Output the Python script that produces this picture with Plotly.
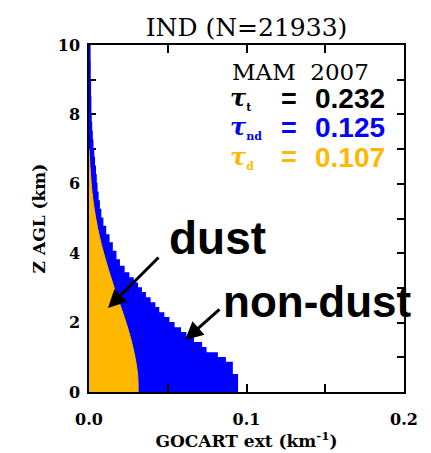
import plotly.graph_objects as go

# ---- data ----
# total (dust + non-dust) extinction, stepped profile: bin edges (km) and values (km^-1)
z_edges = [0.00, 0.49, 0.84, 0.98, 1.12, 1.27, 1.41, 1.56, 1.70, 1.84, 1.99, 2.13, 2.27,
           2.42, 2.56, 2.70, 2.85, 2.99, 3.13, 3.28, 3.42, 3.61, 3.80, 4.04, 4.29, 4.52,
           4.76, 5.00, 5.25, 5.50, 5.75, 6.00, 6.25, 6.50, 6.75, 7.00, 7.25, 7.50, 7.75,
           8.00, 8.50, 9.00, 9.50, 10.00]
total_ext = [0.0940, 0.0907, 0.0863, 0.0812, 0.0740, 0.0712, 0.0660, 0.0612, 0.0578,
             0.0537, 0.0504, 0.0472, 0.0440, 0.0415, 0.0385, 0.0355, 0.0330, 0.0305,
             0.0278, 0.0250, 0.0220, 0.0190, 0.0168, 0.0145, 0.0124, 0.0103, 0.0085,
             0.0072, 0.0063, 0.0055, 0.0048, 0.0043, 0.0038, 0.0032, 0.0027, 0.0022,
             0.0018, 0.0014, 0.0011, 0.0009, 0.0007, 0.0005, 0.0004]

# dust extinction, smooth profile
dust_z = [0.0, 0.5, 1.0, 1.5, 2.0, 2.5, 3.0, 3.5, 4.0, 4.5, 5.0, 5.5, 6.0, 6.5, 7.0]
dust_ext = [0.0312, 0.0309, 0.0292, 0.0267, 0.0235, 0.0198, 0.0160, 0.0125, 0.0093,
            0.0065, 0.0043, 0.0026, 0.0014, 0.0006, 0.0]

x_tickvals = [0.0, 0.05, 0.1, 0.15, 0.2]
x_ticktext = ["0.0", "", "0.1", "", "0.2"]
y_tickvals = [0, 1, 2, 3, 4, 5, 6, 7, 8, 9, 10]
y_ticktext = ["0", "", "2", "", "4", "", "6", "", "8", "", "10"]

title_text = "IND (N=21933)"
season_text = "MAM  2007"
tau_subs = ["t", "nd", "d"]
tau_values = ["0.232", "0.125", "0.107"]
tau_colors = ["#000000", "#0000FF", "#FFB800"]

BLUE = "#0000FF"
ORANGE = "#FFB800"

fig = go.Figure()

fig.add_trace(go.Scatter(
    x=total_ext + [total_ext[-1]], y=z_edges,
    mode="lines", line=dict(color=BLUE, width=2, shape="vh"),
    fill="tozerox", fillcolor=BLUE, hoverinfo="skip", showlegend=False))

fig.add_trace(go.Scatter(
    x=dust_ext, y=dust_z,
    mode="lines", line=dict(color=ORANGE, width=1, shape="spline"),
    fill="tozerox", fillcolor=ORANGE, hoverinfo="skip", showlegend=False))

serif = "DejaVu Serif"
tickfont = dict(family=serif, size=16, color="black", weight="bold")

fig.update_layout(
    width=431, height=453,
    margin=dict(l=89, r=27, t=45, b=61),
    paper_bgcolor="white", plot_bgcolor="white",
    title=dict(text=title_text, x=0.572, xanchor="center", y=1 - 27 / 453, yanchor="middle",
               font=dict(family=serif, size=25, color="black")),
    xaxis=dict(range=[0, 0.2], tickvals=x_tickvals, ticktext=x_ticktext,
               ticks="inside", ticklen=8, tickwidth=1.5, tickcolor="black",
               showline=True, linecolor="black", linewidth=1.5, mirror="ticks",
               showgrid=False, zeroline=False, tickfont=tickfont, ticklabelstandoff=12,
               automargin=False,
               title=dict(text="<b>GOCART ext (km<sup>-1</sup>)</b>",
                          font=dict(family=serif, size=17, color="black"), standoff=5)),
    yaxis=dict(range=[0, 10], tickvals=y_tickvals, ticktext=y_ticktext,
               ticks="inside", ticklen=7, tickwidth=1.5, tickcolor="black",
               showline=True, linecolor="black", linewidth=1.5, mirror="ticks",
               showgrid=False, zeroline=False, tickfont=tickfont, layer="below traces",
               ticklabelstandoff=4, automargin=False,
               title=dict(text="<b>Z AGL (km)</b>",
                          font=dict(family=serif, size=17, color="black"), standoff=8)),
)

ann = []
ann.append(dict(xref="paper", yref="paper", x=(230 - 89) / 315, y=(392 - 72) / 347,
                text=season_text, showarrow=False, xanchor="left", yanchor="middle",
                font=dict(family=serif, size=23, color="black")))
for i, (sub, val, col) in enumerate(zip(tau_subs, tau_values, tau_colors)):
    yc = (392 - (99 + 29 * i)) / 347
    lab = ("<b><i>τ</i></b><sub><span style='font-size:11px'><b>" + sub +
           "</b></span></sub>")
    ann.append(dict(xref="paper", yref="paper", x=(228 - 89) / 315, y=yc, text=lab,
                    showarrow=False, xanchor="left", yanchor="middle",
                    font=dict(family="DejaVu Serif", size=24, color=col)))
    ann.append(dict(xref="paper", yref="paper", x=(289 - 89) / 315, y=yc, text="<b>=</b>",
                    showarrow=False, xanchor="center", yanchor="middle",
                    font=dict(family="Liberation Sans", size=27, color=col)))
    ann.append(dict(xref="paper", yref="paper", x=(313 - 89) / 315, y=yc, text="<b>" + val + "</b>",
                    showarrow=False, xanchor="left", yanchor="middle",
                    font=dict(family="Liberation Sans", size=28, color=col)))

ann.append(dict(xref="paper", yref="paper", x=(217 - 89) / 315, y=(392 - 238) / 347,
                text="<b>dust</b>", showarrow=False, xanchor="center", yanchor="middle",
                font=dict(family="Liberation Sans", size=46, color="black")))
ann.append(dict(xref="paper", yref="paper", x=(317 - 89) / 315, y=(392 - 301) / 347,
                text="<b>non-dust</b>", showarrow=False, xanchor="center", yanchor="middle",
                font=dict(family="Liberation Sans", size=44, color="black")))

# arrows (tip and tail in data coords)
arrows = [((108 - 89) / 1575, (392 - 308) / 34.7, (160 - 89) / 1575, (392 - 256) / 34.7),
          ((185 - 89) / 1575, (392 - 340) / 34.7, (221 - 89) / 1575, (392 - 308) / 34.7)]
for (xt, yt, xs, ys) in arrows:
    ann.append(dict(x=xt, y=yt, ax=xs, ay=ys, xref="x", yref="y", axref="x", ayref="y",
                    text="", showarrow=True, arrowhead=2, arrowsize=1.2, arrowwidth=3,
                    arrowcolor="black"))

fig.update_layout(annotations=ann)
fig.write_html("out.html")
